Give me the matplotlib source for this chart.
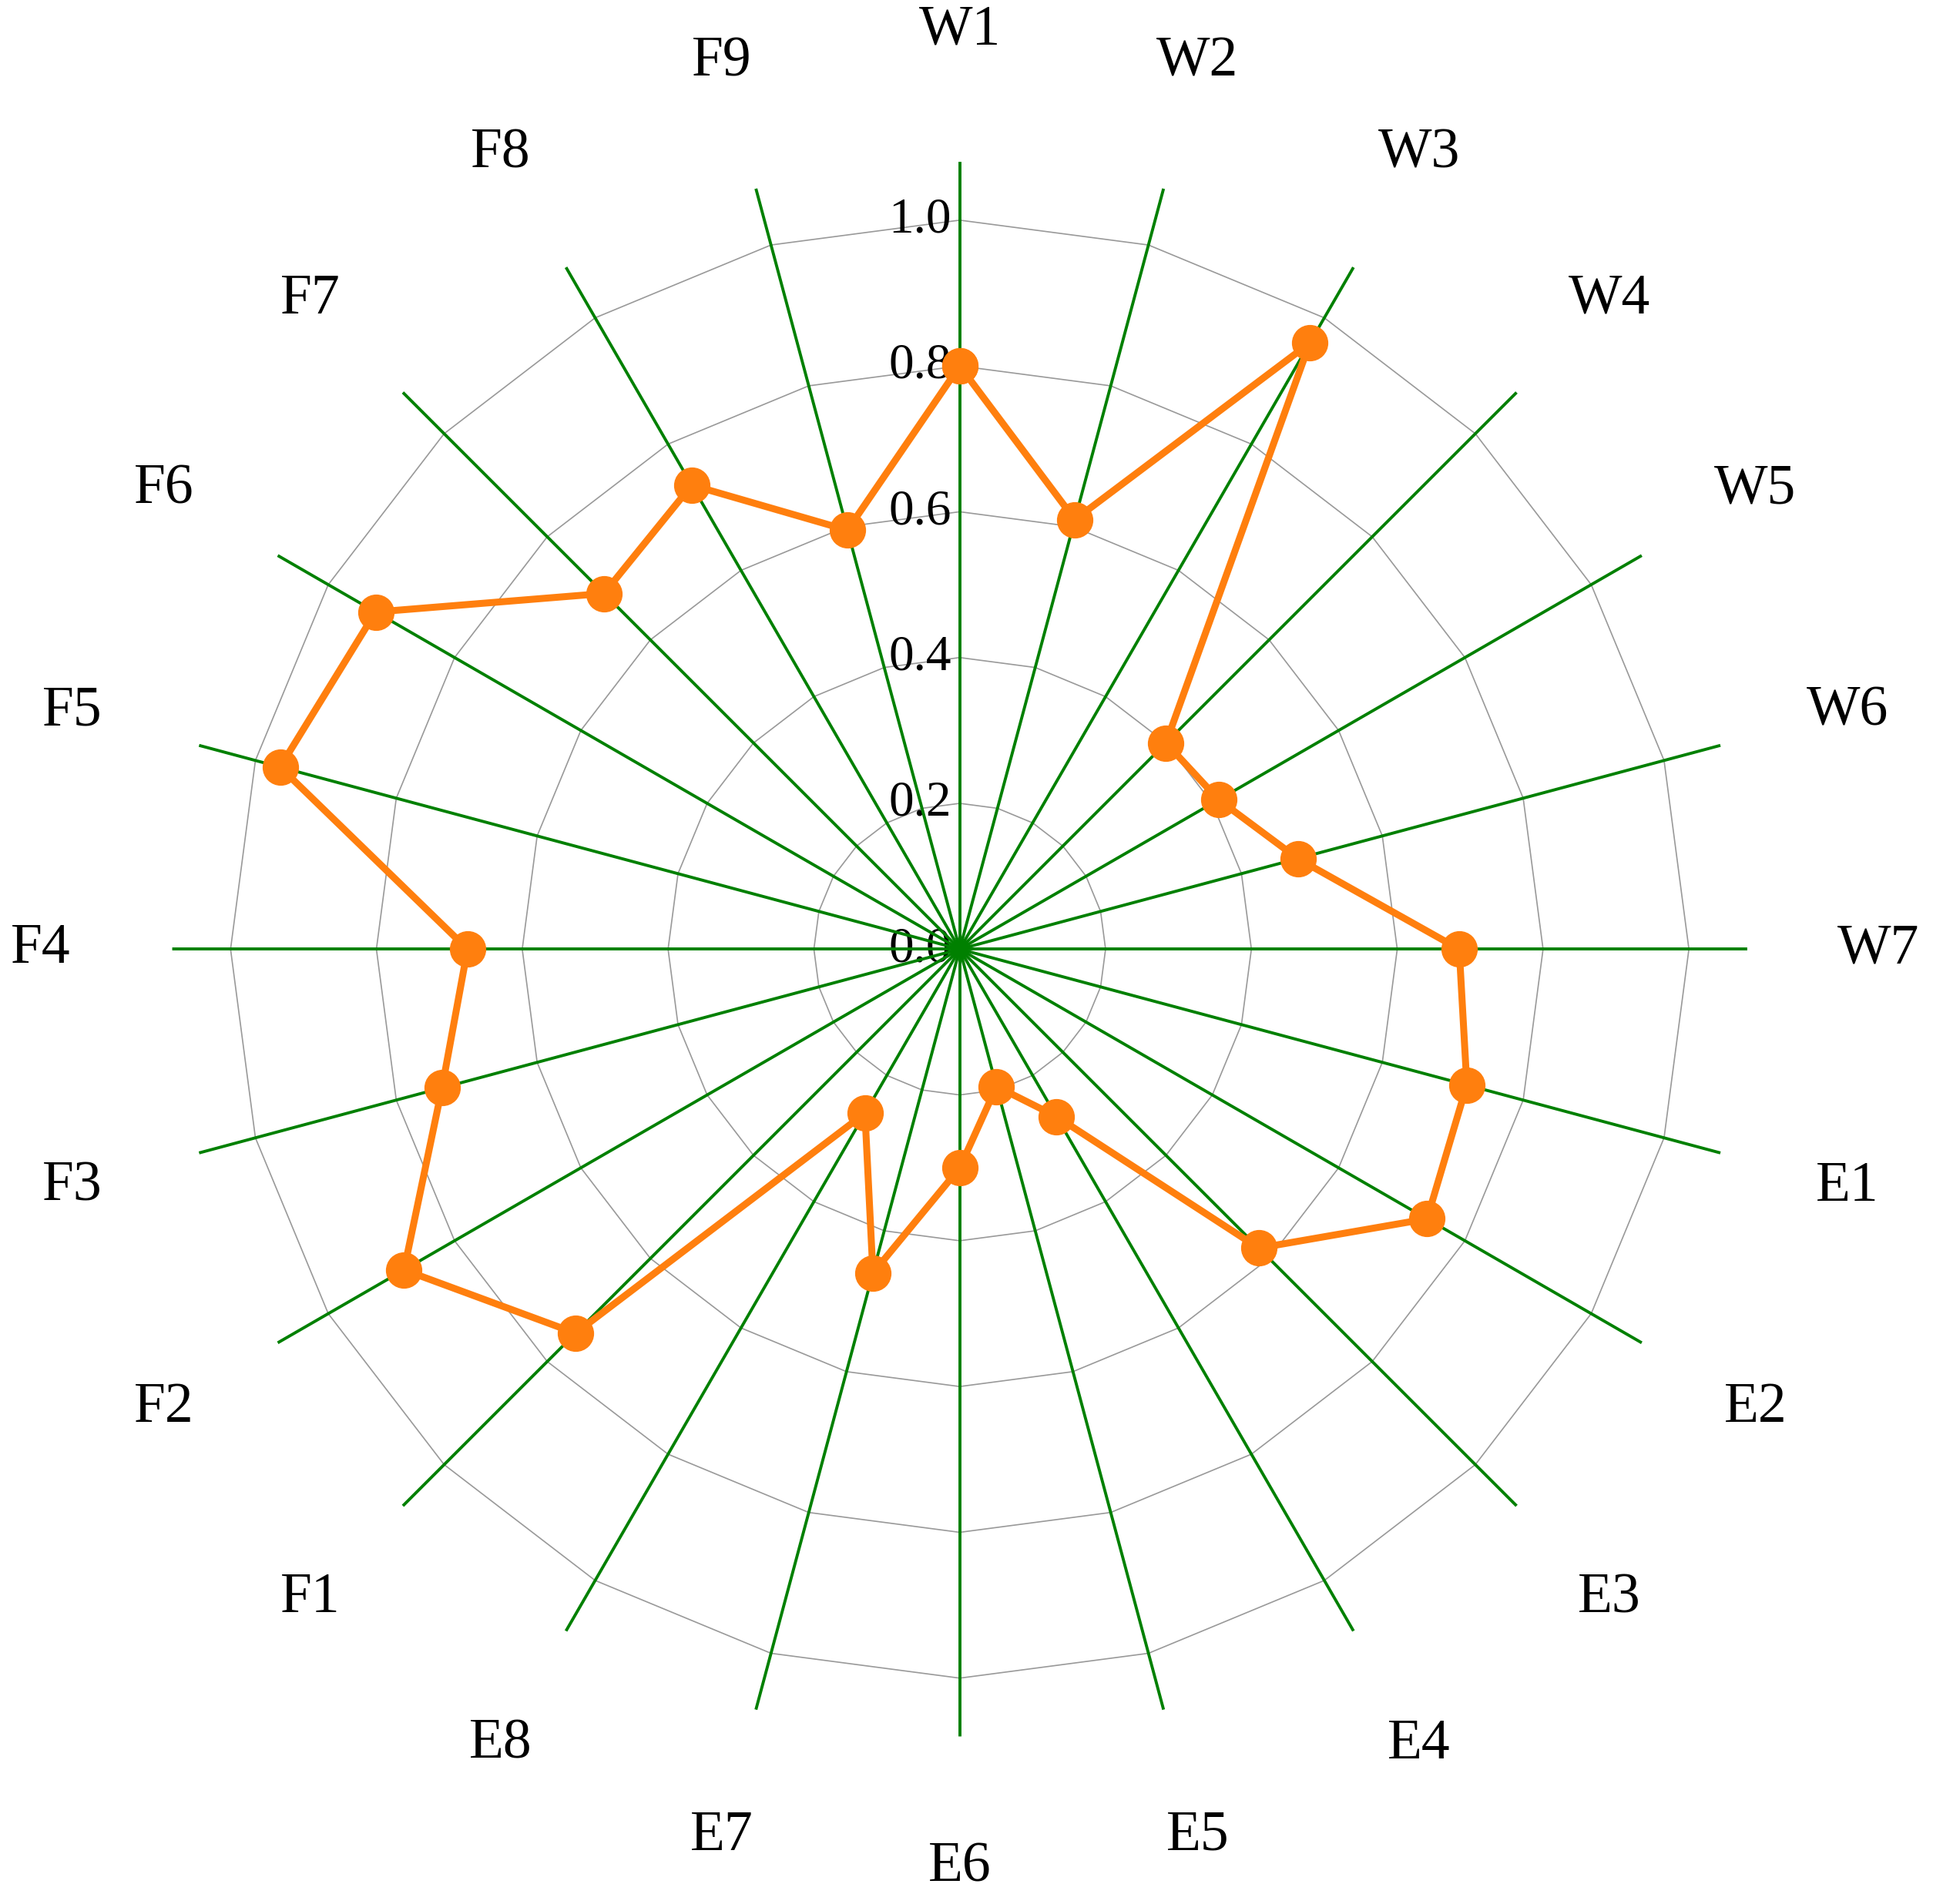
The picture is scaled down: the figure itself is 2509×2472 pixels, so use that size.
import numpy as np
import matplotlib.pyplot as plt

etiquetas = ['W1', 'W2', 'W3', 'W4', 'W5', 'W6', 'W7',
             'E1', 'E2', 'E3', 'E4', 'E5', 'E6', 'E7', 'E8',
             'F1', 'F2', 'F3', 'F4', 'F5', 'F6', 'F7', 'F8', 'F9']
valores = [0.80, 0.61, 0.96, 0.40, 0.41, 0.48, 0.685,
           0.72, 0.74, 0.58, 0.265, 0.195, 0.30, 0.46, 0.26,
           0.745, 0.88, 0.735, 0.675, 0.965, 0.925, 0.69, 0.735, 0.595]
anillos = [0.0, 0.2, 0.4, 0.6, 0.8, 1.0]

plt.rcParams['font.family'] = ['Liberation Serif', 'DejaVu Serif']

n = len(etiquetas)
angulos = np.arange(n) * 2 * np.pi / n

fig = plt.figure(figsize=(25.09, 24.72), dpi=100)
ax = fig.add_axes([0.089, 0.088, 0.815, 0.827], projection='polar')
ax.set_theta_zero_location('N')
ax.set_theta_direction(-1)
ax.set_ylim(0, 1.08)
ax.grid(False)
ax.spines['polar'].set_visible(False)
ax.set_xticks([])
ax.set_yticks([])

# anillos poligonales grises
cerrado = np.append(angulos, angulos[0])
for r in anillos[1:]:
    ax.plot(cerrado, [r] * (n + 1), color='#999999', lw=1.2, zorder=1)

# radios verdes
for a in angulos:
    ax.plot([a, a], [0, 1.08], color='green', lw=2.8, zorder=2)

# etiquetas del eje radial
for r in anillos:
    ax.annotate(f'{r:.1f}', xy=(0, r), xytext=(-8, 0), textcoords='offset points',
                ha='right', va='center', fontsize=47, zorder=1)

# etiquetas de las categorías
for a, et in zip(angulos, etiquetas):
    ax.text(a, 1.26, et, ha='center', va='center', fontsize=53, clip_on=False)

# serie
ax.plot(cerrado, valores + valores[:1], color='#ff7f0e', lw=6.5,
        marker='o', markersize=33, zorder=5)

fig.savefig('out.png', dpi=100)
